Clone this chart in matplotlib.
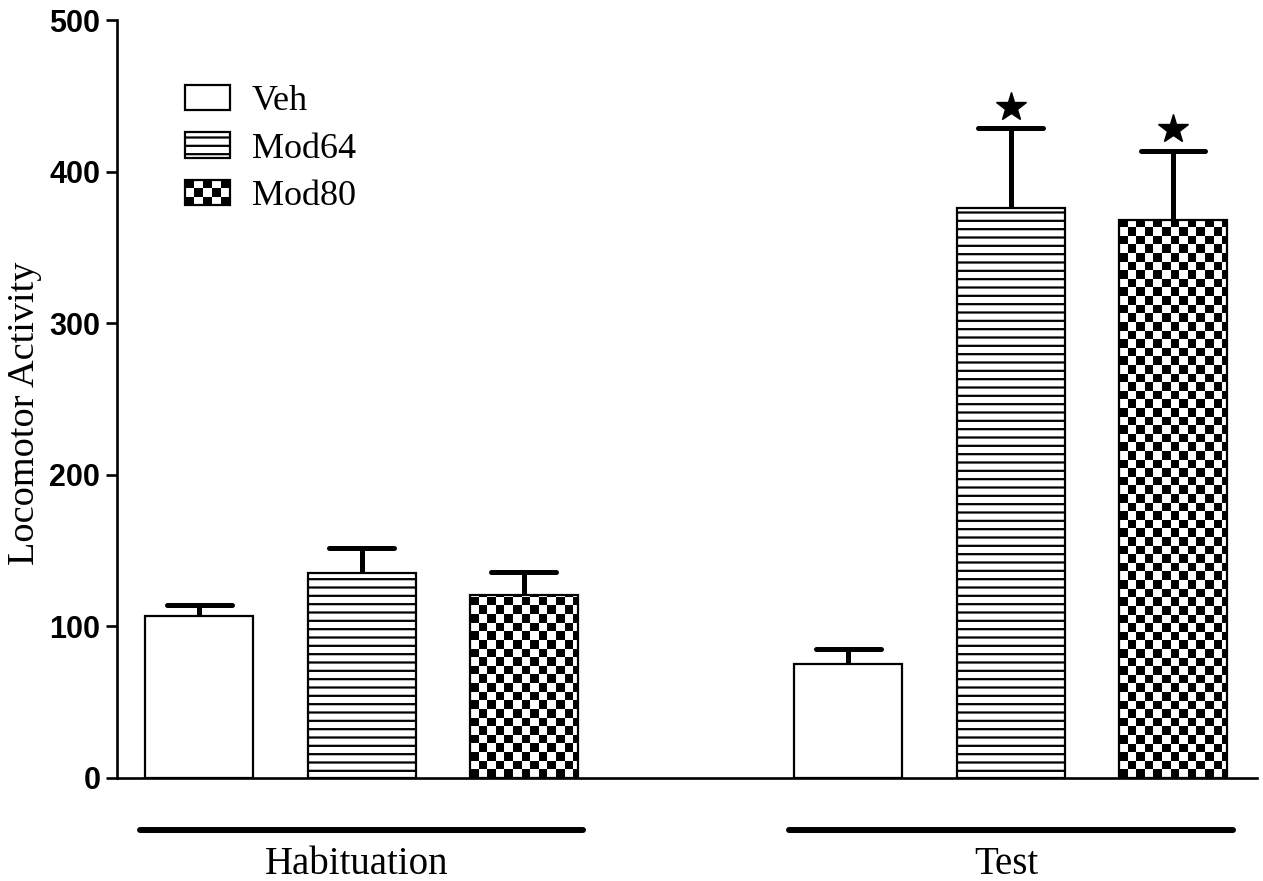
import matplotlib
matplotlib.use("Agg")
import matplotlib.pyplot as plt
import numpy as np
from matplotlib.patches import Rectangle
from matplotlib.legend_handler import HandlerBase

plt.rcParams['hatch.linewidth'] = 1.6

groups = ["Habituation", "Test"]
treatments = ["Veh", "Mod64", "Mod80"]
hab_mean = [107, 135, 121]
hab_err = [7, 17, 15]
test_mean = [75, 376, 368]
test_err = [10, 53, 46]
significant = [False, True, True]   # only for Test

SERIF = "Liberation Serif"
SANS = "Liberation Sans"

fig = plt.figure(figsize=(12.63, 8.81), dpi=100)
ax = fig.add_axes([0.0926, 0.117, 0.9024, 0.860])

x_hab = np.arange(3)
x_test = np.arange(3) + 4
width = 0.665
cap_w = 0.40
xlim = (-0.508, 6.516)
ylim = (0, 500)
ax.set_xlim(*xlim)
ax.set_ylim(*ylim)

# checker cell size in data units (~8.6 px)
ax_w_px = 0.9024 * 1263
ax_h_px = 0.860 * 881
cell_x = 8.6 * (xlim[1] - xlim[0]) / ax_w_px
cell_y = 8.6 * (ylim[1] - ylim[0]) / ax_h_px


def draw_bar(x, h, kind):
    hatch = '--' if kind == 1 else None
    face = 'none' if kind == 2 else 'white'
    b = ax.bar(x, h, width=width, facecolor=face, edgecolor='black',
               linewidth=1.6, hatch=hatch, zorder=2)[0]
    if kind == 2:
        x0 = x - width / 2
        nx = int(np.ceil(width / cell_x)) + 1
        ny = int(np.ceil(h / cell_y)) + 1
        checker = (np.add.outer(np.arange(ny), np.arange(nx)) % 2).astype(float)
        im = ax.imshow(checker, cmap='gray', origin='lower', aspect='auto',
                       interpolation='nearest',
                       extent=(x0, x0 + nx * cell_x, 0, ny * cell_y), zorder=1)
        im.set_clip_path(b)
    return b


def draw_err(xs, means, errs):
    tops = np.array(means) + np.array(errs)
    ax.vlines(xs, means, tops, color='black', linewidth=3.6, zorder=3)
    ax.hlines(tops, xs - cap_w / 2, xs + cap_w / 2, color='black',
              linewidth=3.6, capstyle='round', zorder=3)


for i in range(3):
    draw_bar(x_hab[i], hab_mean[i], i)
    draw_bar(x_test[i], test_mean[i], i)

draw_err(x_hab, hab_mean, hab_err)
draw_err(x_test, test_mean, test_err)

for i in range(3):
    if significant[i]:
        ax.plot(x_test[i], test_mean[i] + test_err[i] + 14, marker='*',
                color='black', markersize=22, zorder=4, clip_on=False)

ax.set_xlim(*xlim)
ax.set_ylim(*ylim)

# axes styling
for s in ['top', 'right']:
    ax.spines[s].set_visible(False)
for s in ['left', 'bottom']:
    ax.spines[s].set_linewidth(1.9)
ax.set_xticks([])
ax.set_yticks(range(0, 501, 100))
ax.tick_params(axis='y', length=8, width=1.9, pad=4)
for lab in ax.get_yticklabels():
    lab.set_fontfamily(SANS)
    lab.set_fontweight('bold')
    lab.set_fontsize(22)

ax.set_ylabel("Locomotor Activity", fontfamily=SERIF, fontsize=27.5)
ax.yaxis.set_label_coords(-0.066, 0.4815)

# group lines and labels below the axis
trans = ax.get_xaxis_transform()
for name, xs in zip(groups, [x_hab, x_test]):
    c = xs.mean()
    ax.plot([c - 1.367, c + 1.367], [-0.0686, -0.0686], color='black',
            linewidth=4.3, solid_capstyle='round', transform=trans, clip_on=False)
    ax.text(c - 0.03, -0.114, name, transform=trans, ha='center', va='center',
            fontfamily=SERIF, fontsize=28)


class CheckerHandler(HandlerBase):
    def create_artists(self, legend, orig_handle, xdescent, ydescent,
                       width, height, fontsize, trans):
        arts = []
        nx, ny = 5, 3
        cw, ch = width / nx, height / ny
        for i in range(ny):
            for j in range(nx):
                if (i + j) % 2 == 0:
                    arts.append(Rectangle((-xdescent + j * cw, -ydescent + i * ch), cw, ch,
                                          facecolor='black', edgecolor='none', transform=trans))
        arts.append(Rectangle((-xdescent, -ydescent), width, height, facecolor='none',
                              edgecolor='black', linewidth=1.6, transform=trans))
        return arts


h_veh = Rectangle((0, 0), 1, 1, facecolor='white', edgecolor='black', linewidth=1.6)
h_64 = Rectangle((0, 0), 1, 1, facecolor='white', edgecolor='black', linewidth=1.6, hatch='--')
h_80 = Rectangle((0, 0), 1, 1, facecolor='white', edgecolor='black', linewidth=1.6)
leg = ax.legend([h_veh, h_64, h_80], treatments, loc='upper left',
                bbox_to_anchor=(0.031, 0.958), frameon=False,
                prop={'family': SERIF, 'size': 26},
                handlelength=1.25, handleheight=0.7, labelspacing=0.4,
                handletextpad=0.6, handler_map={h_80: CheckerHandler()})

fig.savefig("out.png", dpi=100)
